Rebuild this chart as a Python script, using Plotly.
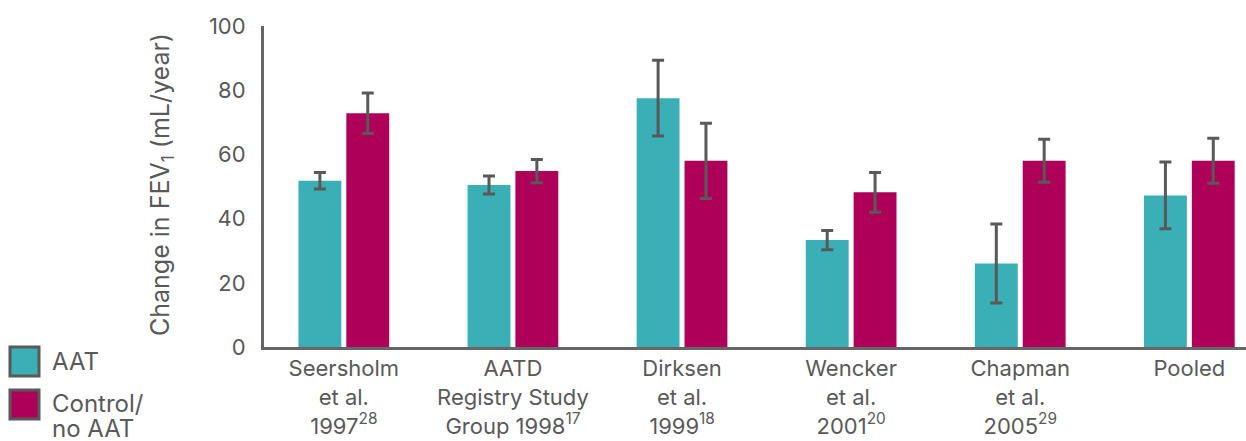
import plotly.graph_objects as go

# ---- data ----
studies = [
    "Seersholm<br>et al.<br>1997<sup>28</sup>",
    "AATD<br>Registry Study<br>Group 1998<sup>17</sup>",
    "Dirksen<br>et al.<br>1999<sup>18</sup>",
    "Wencker<br>et al.<br>2001<sup>20</sup>",
    "Chapman<br>et al.<br>2005<sup>29</sup>",
    "Pooled",
]
aat_values = [51.8, 50.5, 77.5, 33.3, 26.0, 47.2]
aat_errors = [2.6, 2.8, 11.8, 3.0, 12.3, 10.4]
control_values = [72.8, 54.8, 58.0, 48.2, 58.0, 58.0]
control_errors = [6.3, 3.6, 11.7, 6.2, 6.7, 7.0]
series_names = ["AAT", "Control/ no AAT"]
legend_lines = [["AAT"], ["Control/", "no AAT"]]
y_ticks = [0, 20, 40, 60, 80, 100]

TEAL = "#3AAFB5"
MAGENTA = "#AF0059"
GREY = "#666666"
TEXT = "#595959"
FONT = "Inter"

W, H = 1246, 441
ML, MR, MT, MB = 264, 0, 26, 94
positions = list(range(len(studies)))

fig = go.Figure()
for name, vals, errs, col in [
    (series_names[0], aat_values, aat_errors, TEAL),
    (series_names[1], control_values, control_errors, MAGENTA),
]:
    fig.add_trace(go.Bar(
        x=positions, y=vals, name=name, marker=dict(color=col, line=dict(width=0)),
        error_y=dict(type="data", array=errs, visible=True, color="#595959",
                     thickness=3, width=6),
        showlegend=False,
    ))

# custom legend (large outlined squares, bottom-left)
def px2paper(px, py):
    return (px - ML) / (W - ML - MR), (H - MB - py) / (H - MT - MB)

legend_layout = [(TEAL, 347, [362]), (MAGENTA, 390, [403, 428])]
for lines, (col, top, ys) in zip(legend_lines, legend_layout):
    x0, y0 = px2paper(10, top)
    x1, y1 = px2paper(39, top + 29)
    fig.add_shape(type="rect", xref="paper", yref="paper", x0=x0, x1=x1, y0=y1, y1=y0,
                  fillcolor=col, line=dict(color="#595959", width=3))
    for line, ytext in zip(lines, ys):
        tx, ty = px2paper(50, ytext)
        fig.add_annotation(xref="paper", yref="paper", x=tx, y=ty, text=line,
                           showarrow=False, xanchor="left", yanchor="middle",
                           align="left", font=dict(family=FONT, size=24, color=TEXT))

tx, ty = px2paper(161, 185)
fig.add_annotation(xref="paper", yref="paper", x=tx, y=ty,
                   text="Change in FEV<sub>1</sub> (mL/year)", textangle=-90,
                   showarrow=False, xanchor="center", yanchor="middle",
                   font=dict(family=FONT, size=25, color=TEXT))

fig.update_layout(
    width=W, height=H,
    margin=dict(l=ML, r=MR, t=MT, b=MB, pad=0),
    paper_bgcolor="white", plot_bgcolor="white",
    barmode="group", bargap=0.434, bargroupgap=0.104,
    font=dict(family=FONT, color=TEXT, size=22),
    xaxis=dict(range=[-0.472, 5.335], tickvals=positions, ticktext=studies,
               showline=True, linecolor=GREY, linewidth=3, ticks="",
               showgrid=False, zeroline=False, tickfont=dict(size=22, color=TEXT)),
    yaxis=dict(range=[0, 100], tickvals=y_ticks, showline=True, linecolor=GREY,
               linewidth=3, ticks="", showgrid=False, zeroline=False,
               ticklabelstandoff=11, tickfont=dict(size=22, color=TEXT)),
)

fig.write_html("out.html")
